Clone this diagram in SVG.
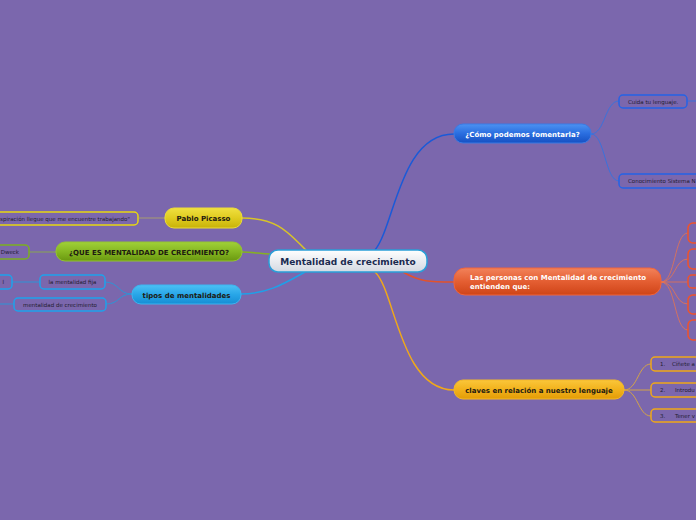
<svg xmlns="http://www.w3.org/2000/svg" width="696" height="520" viewBox="0 0 696 520">
<defs>
<linearGradient id="gC" x1="0" y1="0" x2="0" y2="1"><stop offset="0" stop-color="#ffffff"/><stop offset="1" stop-color="#d4d9e2"/></linearGradient>
<linearGradient id="gB" x1="0" y1="0" x2="0" y2="1"><stop offset="0" stop-color="#4d92f2"/><stop offset="0.5" stop-color="#2a6ee0"/><stop offset="1" stop-color="#1650c2"/></linearGradient>
<linearGradient id="gO" x1="0" y1="0" x2="0" y2="1"><stop offset="0" stop-color="#f2825a"/><stop offset="0.5" stop-color="#e45e32"/><stop offset="1" stop-color="#cf4418"/></linearGradient>
<linearGradient id="gG" x1="0" y1="0" x2="0" y2="1"><stop offset="0" stop-color="#fac63a"/><stop offset="0.5" stop-color="#f2b21c"/><stop offset="1" stop-color="#e39c06"/></linearGradient>
<linearGradient id="gY" x1="0" y1="0" x2="0" y2="1"><stop offset="0" stop-color="#f0e040"/><stop offset="0.5" stop-color="#e0cc20"/><stop offset="1" stop-color="#c8b208"/></linearGradient>
<linearGradient id="gV" x1="0" y1="0" x2="0" y2="1"><stop offset="0" stop-color="#a0d038"/><stop offset="0.5" stop-color="#86b822"/><stop offset="1" stop-color="#6a9810"/></linearGradient>
<linearGradient id="gK" x1="0" y1="0" x2="0" y2="1"><stop offset="0" stop-color="#4cc0f4"/><stop offset="0.5" stop-color="#28a6e8"/><stop offset="1" stop-color="#168ed4"/></linearGradient>
</defs>
<style>
.t{font-family:"DejaVu Sans","Liberation Sans",sans-serif;}
.b{font-weight:bold;font-size:7px;}
.s{font-size:5.5px;fill:#221c30;}
.c{fill:none;}
.box{fill:#7b67ad;stroke-width:1.5;}
</style>
<rect x="0" y="0" width="696" height="520" fill="#7b67ad"/>

<g id="connectors" class="c">
<path d="M375,250 C395,225 400,134 454,134" stroke="#1a5ad8" stroke-width="1.5"/>
<path d="M403,272 C420,282 430,282 454,282" stroke="#e2522c" stroke-width="1.5"/>
<path d="M375,272 C395,290 400,390 454,390" stroke="#f0a81a" stroke-width="1.5"/>
<path d="M242,218 C280,218 290,235 307,251" stroke="#d8c428" stroke-width="1.5"/>
<path d="M242,252 C255,252 260,254 270,254" stroke="#86b022" stroke-width="1.5"/>
<path d="M241,294 C270,294 290,280 305,272" stroke="#1fa0e8" stroke-width="1.5"/>
<path d="M591,134 C605,134 605,101 619,101" stroke="#3a72dc" stroke-width="1"/>
<path d="M591,134 C605,134 605,181 619,181" stroke="#3a72dc" stroke-width="1"/>
<path d="M687,101 L696,101" stroke="#3a72dc" stroke-width="1"/>
<path d="M661,282 C676,282 674,233 688,233" stroke="#e8744e" stroke-width="1" opacity="0.8"/>
<path d="M661,282 C676,282 674,259 688,259" stroke="#e8744e" stroke-width="1" opacity="0.8"/>
<path d="M661,282 L688,282" stroke="#e8744e" stroke-width="1" opacity="0.8"/>
<path d="M661,282 C676,282 674,304 688,304" stroke="#e8744e" stroke-width="1" opacity="0.8"/>
<path d="M661,282 C676,282 674,330 688,330" stroke="#e8744e" stroke-width="1" opacity="0.8"/>
<path d="M624,390 C638,390 638,364 651,364" stroke="#d4a448" stroke-width="1"/>
<path d="M624,390 L651,390" stroke="#d4a448" stroke-width="1"/>
<path d="M624,390 C638,390 638,416 651,416" stroke="#d4a448" stroke-width="1"/>
<path d="M139,218 L165,218" stroke="#a89c70" stroke-width="1"/>
<path d="M29,252 L56,252" stroke="#8aa650" stroke-width="1"/>
<path d="M132,294 C118,294 119,282 105,282" stroke="#2e94d6" stroke-width="1"/>
<path d="M132,294 C118,294 120,304 106,304" stroke="#2e94d6" stroke-width="1"/>
<path d="M12,282 L40,282" stroke="#2e94d6" stroke-width="1"/>
<path d="M0,304 L14,304" stroke="#2e94d6" stroke-width="1"/>
</g>

<g id="central">
<rect x="269" y="250" width="158" height="22" rx="9" fill="url(#gC)" stroke="#2a9fd8" stroke-width="1.5"/>
<text class="t" x="348" y="264.5" text-anchor="middle" font-size="9" font-weight="bold" fill="#1a2a50">Mentalidad de crecimiento</text>
</g>

<g id="n-fomentarla">
<rect x="454" y="124" width="137" height="19" rx="9" fill="url(#gB)" stroke="#3a7ae4" stroke-width="1"/>
<text class="t b" x="522.5" y="136.5" text-anchor="middle" fill="#ffffff">¿Cómo podemos fomentarla?</text>
</g>
<g id="n-cuida">
<rect class="box" x="619" y="95" width="68" height="13" rx="4" stroke="#2563e6"/>
<text class="t s" x="628" y="103.5">Cuida tu lenguaje.</text>
</g>
<g id="n-conocimiento">
<rect class="box" x="619" y="174" width="95" height="14" rx="4" stroke="#2563e6"/>
<text class="t s" x="628" y="183">Conocimiento Sistema N</text>
</g>

<g id="n-personas">
<rect x="454" y="268" width="207" height="27" rx="11" fill="url(#gO)" stroke="#f0643c" stroke-width="1"/>
<text class="t b" x="470" y="280" fill="#ffffff">Las personas con Mentalidad de crecimiento</text>
<text class="t b" x="470" y="289" fill="#ffffff">entienden que:</text>
</g>
<g id="n-p1"><rect class="box" x="688" y="223" width="20" height="20" rx="5" stroke="#f0532a"/></g>
<g id="n-p2"><rect class="box" x="688" y="249" width="20" height="20" rx="5" stroke="#f0532a"/></g>
<g id="n-p3"><rect class="box" x="688" y="275" width="20" height="13" rx="4" stroke="#f0532a"/></g>
<g id="n-p4"><rect class="box" x="688" y="295" width="20" height="19" rx="5" stroke="#f0532a"/></g>
<g id="n-p5"><rect class="box" x="688" y="320" width="20" height="20" rx="5" stroke="#f0532a"/></g>

<g id="n-claves">
<rect x="454" y="380" width="170" height="19" rx="9" fill="url(#gG)" stroke="#f4b828" stroke-width="1"/>
<text class="t b" x="539" y="393" text-anchor="middle" fill="#1e1a10">claves en relación a nuestro lenguaje</text>
</g>
<g id="n-c1">
<rect class="box" x="651" y="357" width="60" height="14" rx="4" stroke="#f0a818"/>
<text class="t s" x="660" y="366">1.</text><text class="t s" x="672" y="366">Cíñete a</text>
</g>
<g id="n-c2">
<rect class="box" x="651" y="383" width="60" height="14" rx="4" stroke="#f0a818"/>
<text class="t s" x="660" y="392">2.</text><text class="t s" x="675" y="392">Introdu</text>
</g>
<g id="n-c3">
<rect class="box" x="651" y="409" width="60" height="13" rx="4" stroke="#f0a818"/>
<text class="t s" x="660" y="418">3.</text><text class="t s" x="675" y="418">Tener v</text>
</g>

<g id="n-picasso">
<rect x="165" y="208" width="77" height="20" rx="9" fill="url(#gY)" stroke="#ecdc38" stroke-width="1"/>
<text class="t b" x="203.5" y="221" text-anchor="middle" fill="#1e1a10">Pablo Picasso</text>
</g>
<g id="n-cita">
<rect class="box" x="-10" y="212" width="148" height="13" rx="4" stroke="#e8d810"/>
<text class="t s" x="130" y="220.5" text-anchor="end">spiración llegue que me encuentre trabajando"</text>
</g>

<g id="n-que-es">
<rect x="56" y="242" width="186" height="19" rx="9" fill="url(#gV)" stroke="#94c430" stroke-width="1"/>
<text class="t b" x="149" y="254.5" text-anchor="middle" fill="#1e1a10">¿QUE ES MENTALIDAD DE CRECIMIENTO?</text>
</g>
<g id="n-dweck">
<rect class="box" x="-10" y="245" width="39" height="14" rx="4" stroke="#7cb020"/>
<text class="t s" x="19" y="254" text-anchor="end">Dweck</text>
</g>

<g id="n-tipos">
<rect x="132" y="285" width="109" height="19" rx="9" fill="url(#gK)" stroke="#3cb4f0" stroke-width="1"/>
<text class="t b" x="186.5" y="297.5" text-anchor="middle" fill="#1e1a10">tipos de mentalidades</text>
</g>
<g id="n-fija">
<rect class="box" x="40" y="275" width="65" height="14" rx="4" stroke="#1ea2ec"/>
<text class="t s" x="72.5" y="284" text-anchor="middle">la mentalidad fija</text>
</g>
<g id="n-fija-sub">
<rect class="box" x="-10" y="275" width="22" height="14" rx="4" stroke="#1ea2ec"/>
<text class="t s" x="4" y="284" text-anchor="end" fill="#cfc8e0">l</text>
</g>
<g id="n-crecimiento">
<rect class="box" x="14" y="298" width="92" height="13" rx="4" stroke="#1ea2ec"/>
<text class="t s" x="60" y="306.5" text-anchor="middle">mentalidad de crecimiento</text>
</g>
</svg>
